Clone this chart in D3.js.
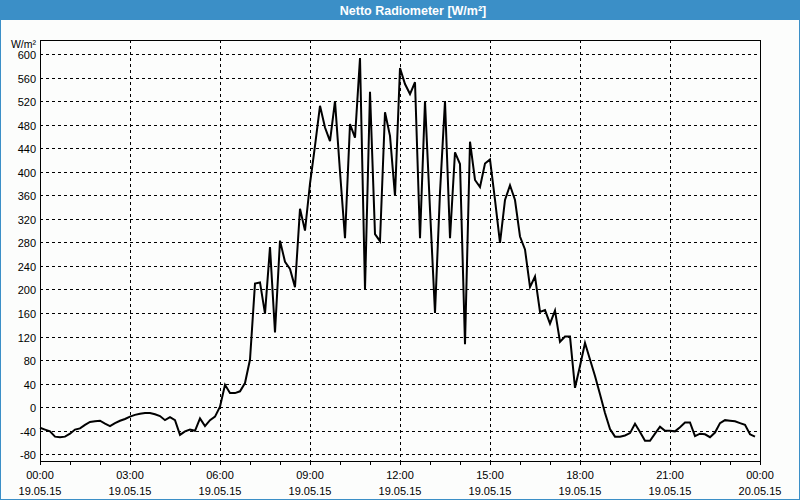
<!DOCTYPE html>
<html>
<head>
<meta charset="utf-8">
<script src="https://cdn.jsdelivr.net/npm/d3@7"></script>
<style>
  html, body { margin: 0; padding: 0; background: #fcfdfc; }
  svg { display: block; }
  text { font-family: "Liberation Sans", Arial, sans-serif; }
</style>
</head>
<body>
<svg id="chart" width="800" height="500"></svg>
<script>
// ---- data ----
const chartTitle = "Netto Radiometer [W/m²]";
const yUnit = "W/m²";
const startTime = "2015-05-19T00:00:00";
const endTime = "2015-05-20T00:00:00";
const stepMinutes = 10;
// net radiation, one value per 10 minutes from 00:00
const values = [
  -35, -38, -41, -50, -51, -50, -45, -38, -36, -30,
  -25, -24, -23, -28, -32, -27, -23, -20, -16, -13,
  -11, -10, -10, -12, -15, -22, -17, -22, -47, -41,
  -38, -40, -19, -32, -22, -16, 1, 38, 24, 24,
  27, 41, 81, 210, 212, 159, 272, 127, 283, 247,
  235, 204, 337, 300, 380, 444, 512, 475, 452, 520,
  400, 287, 481, 458, 593, 200, 536, 294, 282, 501,
  461, 359, 576, 549, 532, 552, 287, 520, 336, 160,
  365, 520, 287, 433, 413, 107, 451, 386, 374, 414,
  421, 352, 279, 352, 377, 352, 290, 268, 204, 222,
  162, 165, 142, 164, 111, 120, 120, 33, 70, 109,
  81, 53, 22, -10, -37, -50, -50, -48, -44, -28,
  -42, -57, -57, -45, -33, -40, -40, -41, -34, -26,
  -26, -49, -45, -46, -51, -43, -27, -22, -23, -24,
  -27, -30, -46, -50
];
const yTicks = [-80, -40, 0, 40, 80, 120, 160, 200, 240, 280, 320, 360, 400, 440, 480, 520, 560, 600];
const xTickTimes = ["00:00", "03:00", "06:00", "09:00", "12:00", "15:00", "18:00", "21:00", "00:00"];
const xTickDates = ["19.05.15", "19.05.15", "19.05.15", "19.05.15", "19.05.15", "19.05.15", "19.05.15", "19.05.15", "20.05.15"];

// ---- layout ----
const W = 800, H = 500;
const plot = { left: 40, right: 760, top: 40, bottom: 461 };

const svg = d3.select("#chart");
const t0 = new Date(startTime), t1 = new Date(endTime);
const x = d3.scaleTime().domain([t0, t1]).range([plot.left, plot.right]);
const y = d3.scaleLinear().domain([-80, 600]).range([454.3, 54]);

const points = values.map((v, i) => ({ t: d3.timeMinute.offset(t0, i * stepMinutes), v }));

// background & title bar
svg.append("rect").attr("x", 0).attr("y", 0).attr("width", W).attr("height", H).attr("fill", "#fcfdfc");
svg.append("rect").attr("x", 0).attr("y", 0).attr("width", W).attr("height", 20).attr("fill", "#3b8fc7");
svg.append("rect").attr("x", 0.5).attr("y", 0.5).attr("width", W - 1).attr("height", H - 1)
  .attr("fill", "none").attr("stroke", "#3b8fc7").attr("stroke-width", 1);
svg.append("text").attr("x", 413).attr("y", 14.5).attr("text-anchor", "middle")
  .attr("fill", "#ffffff").attr("font-size", "12.5px").attr("font-weight", "bold").text(chartTitle);

// gridlines
const grid = svg.append("g").attr("shape-rendering", "crispEdges");
grid.selectAll(".hg").data(yTicks).enter().append("line")
  .attr("x1", plot.left).attr("x2", plot.right)
  .attr("y1", d => Math.round(y(d)) + 0.5).attr("y2", d => Math.round(y(d)) + 0.5)
  .attr("stroke", "#000").attr("stroke-dasharray", "3,3");
const xTickDatesObj = d3.timeHour.every(3).range(t0, d3.timeMinute.offset(t1, 1));
grid.selectAll(".vg").data(xTickDatesObj.slice(1, -1)).enter().append("line")
  .attr("x1", d => Math.round(x(d)) + 0.5).attr("x2", d => Math.round(x(d)) + 0.5)
  .attr("y1", plot.top).attr("y2", plot.bottom)
  .attr("stroke", "#000").attr("stroke-dasharray", "3,3");

// frame
svg.append("rect").attr("x", plot.left + 0.5).attr("y", plot.top + 0.5)
  .attr("width", plot.right - plot.left).attr("height", plot.bottom - plot.top)
  .attr("fill", "none").attr("stroke", "#000").attr("shape-rendering", "crispEdges");

// hourly ticks below the axis
const hourTicks = d3.timeHour.every(1).range(t0, d3.timeMinute.offset(t1, 1));
svg.append("g").attr("shape-rendering", "crispEdges").selectAll("line").data(hourTicks).enter().append("line")
  .attr("x1", d => Math.round(x(d)) + 0.5).attr("x2", d => Math.round(x(d)) + 0.5)
  .attr("y1", plot.bottom).attr("y2", plot.bottom + 4).attr("stroke", "#000");

// y labels
svg.append("g").selectAll("text").data(yTicks).enter().append("text")
  .attr("x", 36).attr("y", d => y(d) + 5).attr("text-anchor", "end")
  .attr("font-size", "11px").attr("fill", "#000").text(d => d);
svg.append("text").attr("x", 36).attr("y", 47.5).attr("text-anchor", "end")
  .attr("font-size", "10.5px").attr("fill", "#000").text(yUnit);

// x labels
const xl = svg.append("g").selectAll("g").data(xTickDatesObj).enter().append("g");
xl.append("text").attr("x", d => x(d)).attr("y", 479).attr("text-anchor", "middle")
  .attr("font-size", "11px").attr("fill", "#000").text((d, i) => xTickTimes[i]);
xl.append("text").attr("x", d => x(d)).attr("y", 495).attr("text-anchor", "middle")
  .attr("font-size", "11px").attr("fill", "#000").text((d, i) => xTickDates[i]);

// data line
const line = d3.line().x(d => x(d.t)).y(d => y(d.v));
svg.append("path").datum(points).attr("d", line)
  .attr("fill", "none").attr("stroke", "#000").attr("stroke-width", 2).attr("stroke-linejoin", "miter");
</script>
</body>
</html>
